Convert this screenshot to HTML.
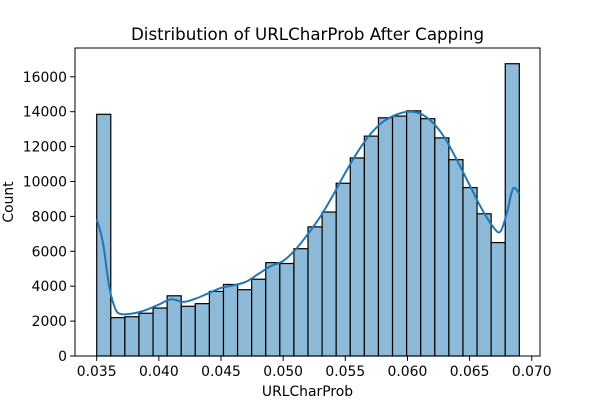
<!DOCTYPE html>
<html><head><meta charset="utf-8"><style>
body{margin:0;background:#fff;font-family:"Liberation Sans","DejaVu Sans",sans-serif}
svg text{font-family:"DejaVu Sans","Liberation Sans",sans-serif;fill:#000}
</style></head><body>
<svg id="chart" width="600" height="400" viewBox="0 0 600 400" xmlns="http://www.w3.org/2000/svg">
<rect width="600" height="400" fill="#fff"/>
<text x="307.5" y="40" font-size="16.7" text-anchor="middle">Distribution of URLCharProb After Capping</text>
<g id="bars"></g>
<path id="kde" fill="none" stroke="#1f77b4" stroke-width="2"/>
<g id="axes"></g>
<text x="307.5" y="396" font-size="13.9" text-anchor="middle">URLCharProb</text>
<text transform="translate(13,202) rotate(-90)" font-size="13.9" text-anchor="middle">Count</text>
</svg>
<script>
const binStart = 0.035;
const binEnd = 0.069;
const counts = [13850,2200,2250,2450,2750,3450,2850,3000,3700,4100,3800,4400,5350,5300,6150,7400,8250,9900,11350,12600,13650,13750,14050,13600,12500,11250,9650,8150,6500,16750];
const kdeX = [0.0350,0.0355,0.0360,0.0365,0.0370,0.0380,0.0390,0.0400,0.0410,0.0420,0.0430,0.0440,0.0450,0.0460,0.0470,0.0480,0.0490,0.0500,0.0510,0.0520,0.0530,0.0540,0.0550,0.0560,0.0570,0.0580,0.0590,0.0600,0.0610,0.0620,0.0630,0.0640,0.0650,0.0660,0.0670,0.0675,0.0680,0.0685,0.0690];
const kdeY = [7850,6500,4000,2700,2400,2450,2650,2950,3250,3100,3300,3600,3900,4050,4250,4700,5150,5450,6100,7000,8000,9200,10500,11700,12700,13400,13800,14000,13900,13400,12500,11200,9800,8400,7300,7150,8200,9600,9300];
const xTicks = [0.035,0.040,0.045,0.050,0.055,0.060,0.065,0.070];
const xTickLabels = ["0.035","0.040","0.045","0.050","0.055","0.060","0.065","0.070"];
const yTicks = [0,2000,4000,6000,8000,10000,12000,14000,16000];

const L=75,R=540,T=48,B=356;
const xs = v => 96.7 + (v-0.035)*12430;
const ys = v => B - v*(34.9/2000);
const NS="http://www.w3.org/2000/svg";
const bars=document.getElementById('bars');
const w=(binEnd-binStart)/counts.length;
counts.forEach((c,i)=>{
  const r=document.createElementNS(NS,'rect');
  const x0=xs(binStart+i*w), x1=xs(binStart+(i+1)*w);
  r.setAttribute('x',x0);r.setAttribute('y',ys(c));
  r.setAttribute('width',x1-x0);r.setAttribute('height',B-ys(c));
  r.setAttribute('fill','#8ebad9');r.setAttribute('stroke','#000');r.setAttribute('stroke-width','1.2');
  
  
  bars.appendChild(r);
});
const pts=kdeX.map((x,i)=>[xs(x),ys(kdeY[i])]);
let d='M'+pts[0][0]+','+pts[0][1];
for(let i=0;i<pts.length-1;i++){
  const p0=pts[i-1]||pts[i],p1=pts[i],p2=pts[i+1],p3=pts[i+2]||p2;
  const c1=[p1[0]+(p2[0]-p0[0])/6,p1[1]+(p2[1]-p0[1])/6];
  const c2=[p2[0]-(p3[0]-p1[0])/6,p2[1]-(p3[1]-p1[1])/6];
  d+=` C${c1[0]},${c1[1]} ${c2[0]},${c2[1]} ${p2[0]},${p2[1]}`;
}
document.getElementById('kde').setAttribute('d',d);
const ax=document.getElementById('axes');
const frame=document.createElementNS(NS,'rect');
frame.setAttribute('x',L);frame.setAttribute('y',T);frame.setAttribute('width',R-L);frame.setAttribute('height',B-T);
frame.setAttribute('fill','none');frame.setAttribute('stroke','#000');frame.setAttribute('stroke-width','1');


ax.appendChild(frame);
xTicks.forEach((t,i)=>{
  const x=xs(t);
  const l=document.createElementNS(NS,'line');
  l.setAttribute('x1',x);l.setAttribute('x2',x);l.setAttribute('y1',B);l.setAttribute('y2',B+4.9);l.setAttribute('stroke','#000');
  
  
  ax.appendChild(l);
  const tx=document.createElementNS(NS,'text');
  tx.setAttribute('x',x);tx.setAttribute('y',B+20);tx.setAttribute('font-size','13.9');tx.setAttribute('text-anchor','middle');
  tx.textContent=xTickLabels[i];
  
  
  ax.appendChild(tx);
});
yTicks.forEach(t=>{
  const y=ys(t);
  const l=document.createElementNS(NS,'line');
  l.setAttribute('x1',L-4.9);l.setAttribute('x2',L);l.setAttribute('y1',y);l.setAttribute('y2',y);l.setAttribute('stroke','#000');
  
  
  ax.appendChild(l);
  const tx=document.createElementNS(NS,'text');
  tx.setAttribute('x',L-8);tx.setAttribute('y',y+5);tx.setAttribute('font-size','13.9');tx.setAttribute('text-anchor','end');
  tx.textContent=String(t);
  
  
  ax.appendChild(tx);
});
</script>
</body></html>
